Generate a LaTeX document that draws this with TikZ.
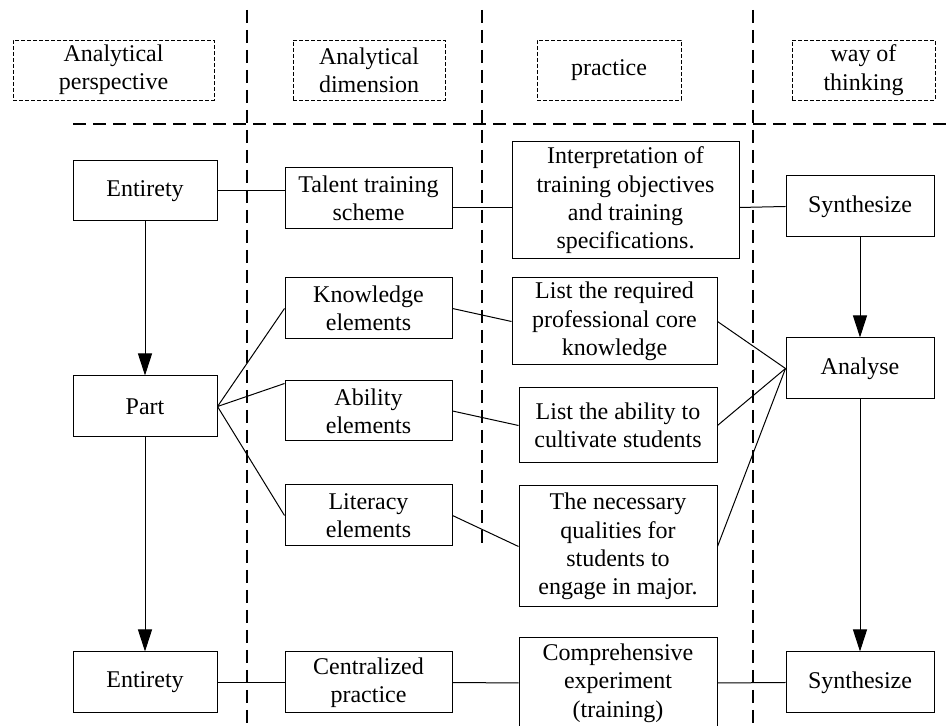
\documentclass[tikz,border=0pt]{standalone}
\usepackage{fontspec}
\setmainfont{Liberation Serif}
\usetikzlibrary{positioning,arrows.meta}

\begin{document}
\begin{tikzpicture}[x=0.5pt, y=-0.5pt,
    every node/.style={font=\fontsize{12}{14.2}\selectfont, align=center, inner sep=0pt},
    sz/.style 2 args={minimum width=#1*0.5pt, minimum height=#2*0.5pt},
    box/.style={draw, line width=0.5pt},
    head/.style={draw, line width=0.45pt, dash pattern=on 2pt off 1pt},
    sep/.style={line width=1pt, dash pattern=on 6.5pt off 3.5pt},
    link/.style={line width=0.5pt},
    flow/.style={line width=0.5pt, -{Triangle[length=11pt,width=7pt]}}]
  \useasboundingbox (0,0) rectangle (949,726);
  \clip (0,0) rectangle (949,726);

  %----- 分隔虛線 -----
  \draw[sep] (247,10) -- (247,726);
  \draw[sep] (482,10) -- (482,547);
  \draw[sep] (753,10) -- (753,726);
  \draw[sep] (73,124) -- (949,124);

  %----- 表頭 -----
  \node[head, sz={201}{60}] (hpers) at (113.5,70) {Analytical\\perspective};
  \node[head, sz={152}{60}] (hdim)  at (369,70)   {Analytical\\dimension};
  \node[head, sz={144}{60}] (hprac) at (609,70)   {practice};
  \node[head, sz={143}{60}] (hway)  at (863.5,70) {way of\\thinking};

  %----- 第一列:整體 -----
  \node[box, sz={144}{60}]  (ent1)   at (145,191)     {Entirety};
  \node[box, sz={167}{61}]  (tal)    at (368.5,198.5) {Talent training\\scheme};
  \node[box, sz={227}{117}] (interp) at (625.5,200.5) {Interpretation of\\training objectives\\and training\\specifications.};
  \node[box, sz={148}{61}]  (syn1)   at (860,206.5)   {Synthesize};

  %----- 中間:部分 -----
  \node[box, sz={144}{61}]  (part)  at (145,406.5)   {Part};
  \node[box, sz={167}{61}]  (know)  at (368.5,308.5) {Knowledge\\elements};
  \node[box, sz={167}{60}]  (abil)  at (368.5,411)   {Ability\\elements};
  \node[box, sz={167}{61}]  (lit)   at (368.5,515.5) {Literacy\\elements};
  \node[box, sz={205}{87}]  (req)   at (614.5,321.5) {List the required\\professional core\\knowledge};
  \node[box, sz={198}{75}]  (labil) at (618,425.5)   {List the ability to\\cultivate students};
  \node[box, sz={198}{121}] (nec)   at (618,546.5)   {The necessary\\qualities for\\students to\\engage in major.};
  \node[box, sz={148}{61}]  (ana)   at (860,368.5)   {Analyse};

  %----- 最後一列:整體 -----
  \node[box, sz={144}{61}] (ent2) at (145,682.5)   {Entirety};
  \node[box, sz={167}{61}] (cent) at (368.5,682.5) {Centralized\\practice};
  \node[box, sz={198}{90}] (comp) at (618,683)     {Comprehensive\\experiment\\(training)};
  \node[box, sz={148}{61}] (syn2) at (860,682.5)   {Synthesize};

  %----- 連線 -----
  \draw[link] (ent1.east) -- (ent1.east -| tal.west);
  \draw[link] ([yshift=-4.5pt]tal.east) -- ([yshift=-4.5pt]tal.east -| interp.west);
  \draw[link] ([yshift=-3.5pt]interp.east) -- (syn1.west);
  \draw[link] (part.east) -- (know.west);
  \draw[link] (part.east) -- ([yshift=-1.5pt]abil.north west);
  \draw[link] (part.east) -- (lit.west);
  \draw[link] (know.east) -- (req.west);
  \draw[link] (abil.east) -- (labil.west);
  \draw[link] (lit.east) -- (nec.west);
  \draw[link] (req.east) -- (ana.west);
  \draw[link] (labil.east) -- (ana.west);
  \draw[link] (nec.east) -- (ana.west);
  \draw[link] (ent2.east) -- (cent.west);
  \draw[link] (cent.east) -- (comp.west);
  \draw[link] (comp.east) -- (syn2.west);

  %----- 箭頭 -----
  \draw[flow] (ent1) -- (part);
  \draw[flow] (part) -- (ent2);
  \draw[flow] (syn1) -- (ana);
  \draw[flow] (ana) -- (syn2);
\end{tikzpicture}
\end{document}
